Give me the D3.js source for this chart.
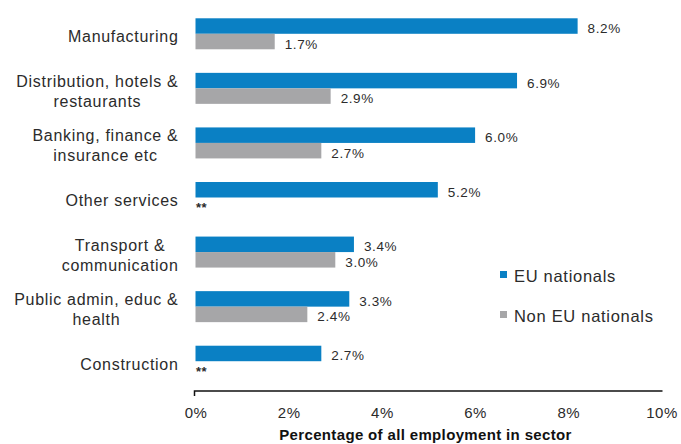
<!DOCTYPE html>
<html>
<head>
<meta charset="utf-8">
<script src="https://cdn.jsdelivr.net/npm/d3@7"></script>
<style>
  html, body { margin: 0; padding: 0; background: #fff; }
  svg { display: block; font-family: "Liberation Sans", Arial, sans-serif; }
</style>
</head>
<body>
<svg id="chart" width="681" height="444"></svg>
<script>
// Employment share by sector, EU vs non-EU nationals (percent)
const sectors = [
  ["Manufacturing"],
  ["Distribution, hotels &", "restaurants"],
  ["Banking, finance &", "insurance etc"],
  ["Other services"],
  ["Transport &", "communication"],
  ["Public admin, educ &", "health"],
  ["Construction"]
];
const euNationals    = [8.2, 6.9, 6.0, 5.2, 3.4, 3.3, 2.7];
const nonEuNationals = [1.7, 2.9, 2.7, null, 3.0, 2.4, null]; // null: sample too small (**)
const seriesNames = ["EU nationals", "Non EU nationals"];
const seriesColors = ["#0A80C4", "#A6A6A8"];
const xTicks = [0, 2, 4, 6, 8, 10];
const xTitle = "Percentage of all employment in sector";

const svg = d3.select("#chart");
const textColor = "#2b2b2b";

const x = d3.scaleLinear().domain([0, 10]).range([195.5, 661.5]);
const y = d3.scaleBand()
  .domain(d3.range(sectors.length))
  .range([6.5, 388.5])
  .paddingInner(0.432)
  .paddingOuter(0.216);
const ySub = d3.scaleBand()
  .domain([0, 1])
  .range([0, y.bandwidth()]);

const rows = sectors.map((s, i) => ({
  i, lines: s, values: [euNationals[i], nonEuNationals[i]]
}));

// Bars
const groups = svg.append("g").selectAll("g")
  .data(rows).join("g")
  .attr("transform", d => `translate(0,${y(d.i)})`);

groups.selectAll("rect")
  .data(d => d.values.map((v, k) => ({ v, k })).filter(e => e.v != null))
  .join("rect")
  .attr("x", x(0))
  .attr("y", e => ySub(e.k))
  .attr("width", e => x(e.v) - x(0))
  .attr("height", ySub.bandwidth())
  .attr("fill", e => seriesColors[e.k]);

// Value labels
groups.selectAll("text.val")
  .data(d => d.values.map((v, k) => ({ v, k })).filter(e => e.v != null))
  .join("text")
  .attr("class", "val")
  .attr("x", e => x(e.v) + 10)
  .attr("y", e => ySub(e.k) + ySub.bandwidth() / 2 + 7)
  .attr("font-size", 13.5)
  .attr("letter-spacing", 0.6)
  .attr("fill", textColor)
  .text(e => e.v.toFixed(1) + "%");

// Missing-value markers
groups.selectAll("text.miss")
  .data(d => d.values.map((v, k) => ({ v, k })).filter(e => e.v == null))
  .join("text")
  .attr("class", "miss")
  .attr("x", x(0) + 0.5)
  .attr("y", e => ySub(e.k) + ySub.bandwidth() / 2 + 7)
  .attr("font-size", 13)
  .attr("font-weight", "bold")
  .attr("letter-spacing", 0.5)
  .attr("fill", textColor)
  .text("**");

// Category labels (multi-line, lines centred, block right-aligned)
const labelRight = 178.5;
const lineH = 20;
rows.forEach(d => {
  const g = svg.append("g");
  const cy = y(d.i) + y.bandwidth() / 2 + 8.5;
  const texts = d.lines.map((ln, j) => g.append("text")
    .attr("y", cy + (j - (d.lines.length - 1) / 2) * lineH)
    .attr("font-size", 16)
    .attr("letter-spacing", 0.7)
    .attr("fill", textColor)
    .attr("text-anchor", "middle")
    .text(ln));
  const maxW = d3.max(texts, t => t.node().getComputedTextLength());
  texts.forEach(t => t.attr("x", labelRight - maxW / 2));
});

// X axis
const axisY = 391;
const axis = d3.axisBottom(x)
  .tickValues(xTicks)
  .tickFormat(v => v + "%")
  .tickSize(0)
  .tickPadding(16);
const ax = svg.append("g")
  .attr("transform", `translate(0,${axisY})`)
  .call(axis);
ax.select(".domain").attr("stroke", "#111").attr("stroke-width", 1.5)
  .attr("d", `M${x(0) - 1},5V0H${x(10) + 1}`);
ax.selectAll("text")
  .attr("font-size", 15)
  .attr("letter-spacing", 0.5)
  .attr("fill", textColor)
  .attr("font-family", "Liberation Sans, Arial, sans-serif");

svg.append("text")
  .attr("x", (x(0) + x(10)) / 2 - 3)
  .attr("y", 440)
  .attr("text-anchor", "middle")
  .attr("font-size", 15)
  .attr("font-weight", "bold")
  .attr("letter-spacing", 0.35)
  .attr("fill", "#111")
  .text(xTitle);

// Legend
const legend = svg.append("g").selectAll("g")
  .data(seriesNames).join("g")
  .attr("transform", (d, k) => `translate(500,${271 + k * 40})`);
legend.append("rect")
  .attr("width", 7).attr("height", 7)
  .attr("fill", (d, k) => seriesColors[k]);
legend.append("text")
  .attr("x", 14).attr("y", 11)
  .attr("font-size", 16.5)
  .attr("letter-spacing", 0.7)
  .attr("fill", textColor)
  .text(d => d);
</script>
</body>
</html>
